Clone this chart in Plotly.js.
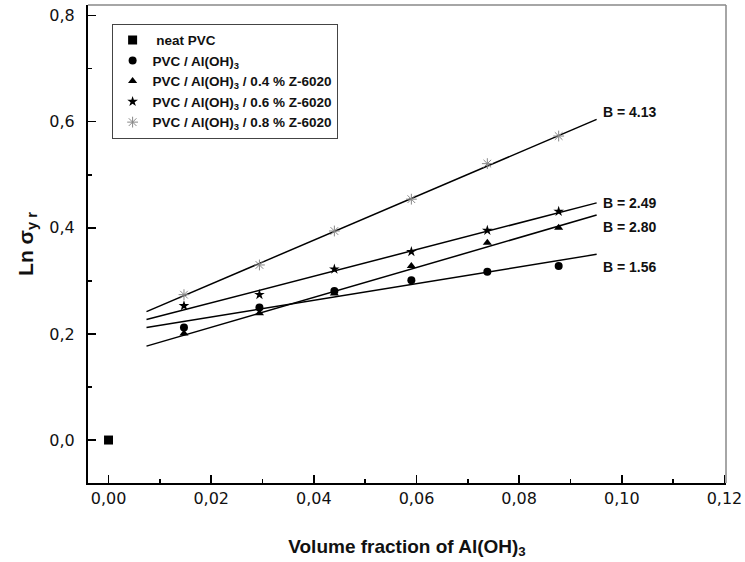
<!DOCTYPE html>
<html>
<head>
<meta charset="utf-8">
<script src="https://cdn.plot.ly/plotly-3.0.1.min.js"></script>
<style>html,body{margin:0;padding:0;background:#fff;}#chart{width:745px;height:562px;}</style>
</head>
<body>
<div id="chart"></div>
<script>
// Data
const seriesNames = [
  '\u00a0neat PVC',
  'PVC / Al(OH)<sub>3</sub>',
  'PVC / Al(OH)<sub>3</sub> / 0.4 % Z-6020',
  'PVC / Al(OH)<sub>3</sub> / 0.6 % Z-6020',
  'PVC / Al(OH)<sub>3</sub> / 0.8 % Z-6020'
];
const neatX = [0.0];
const neatY = [0.0];
const fracX = [0.0147, 0.0294, 0.0440, 0.0590, 0.0738, 0.0877];
const circleY = [0.212, 0.250, 0.281, 0.301, 0.317, 0.328];
const triangleY = [0.201, 0.239, 0.276, 0.328, 0.372, 0.400];
const starY = [0.253, 0.274, 0.322, 0.355, 0.395, 0.431];
const asteriskY = [0.274, 0.330, 0.394, 0.454, 0.521, 0.573];
// fitted lines (end points)
const fitX = [0.0074, 0.0951];
const fitCircle = [0.212, 0.350];
const fitTriangle = [0.177, 0.424];
const fitStar = [0.227, 0.447];
const fitAsterisk = [0.242, 0.6045];
const bLabels = ['B = 4.13', 'B = 2.49', 'B = 2.80', 'B = 1.56'];

const fits = [fitAsterisk, fitStar, fitTriangle, fitCircle];
const labelShift = [7, 0, -12, -13];

const traces = [];
fits.forEach(f => traces.push({
  x: fitX, y: f, mode: 'lines', showlegend: false, hoverinfo: 'skip',
  line: {color: '#000', width: 1.5}
}));
traces.push({x: neatX, y: neatY, mode: 'markers', name: seriesNames[0],
  marker: {symbol: 'square', size: 9, color: '#000'}});
traces.push({x: fracX, y: circleY, mode: 'markers', name: seriesNames[1],
  marker: {symbol: 'circle', size: 8, color: '#000'}});
traces.push({x: fracX, y: triangleY, mode: 'markers', name: seriesNames[2],
  marker: {symbol: 'triangle-up', size: 8, color: '#000'}});
traces.push({x: fracX, y: starY, mode: 'markers', name: seriesNames[3],
  marker: {symbol: 'star', size: 8, color: '#000'}});
traces.push({x: fracX, y: asteriskY, mode: 'markers', name: seriesNames[4],
  marker: {symbol: 'asterisk-open', size: 9, color: '#888', line: {color: '#888', width: 1}}});

const tickFont = {family: 'DejaVu Sans', size: 16, color: '#111'};
const titleFont = {family: 'Liberation Sans, Arial', size: 21, color: '#111', weight: 'bold'};

const layout = {
  width: 745, height: 562,
  margin: {l: 88, r: 19, t: 5, b: 79},
  paper_bgcolor: '#fff', plot_bgcolor: '#fff',
  separators: ', ',
  showlegend: true,
  legend: {
    x: 0.037, y: 0.961, xanchor: 'left', yanchor: 'top',
    bgcolor: '#fff', bordercolor: '#444', borderwidth: 1,
    font: {family: 'Liberation Sans, Arial', size: 13.5, color: '#111', weight: 'bold'},
    tracegroupgap: 0
  },
  xaxis: {
    range: [-0.004, 0.1203], dtick: 0.02, tick0: 0, tickformat: '.2f',
    showgrid: false, zeroline: false,
    showline: true, linecolor: '#000', linewidth: 2, mirror: false,
    ticks: 'inside', ticklen: 8, tickwidth: 1.5, tickcolor: '#000',
    minor: {ticks: 'inside', ticklen: 4, tickwidth: 1.5, tickcolor: '#000', dtick: 0.01, showgrid: false},
    tickfont: tickFont,
    title: {text: 'Volume fraction of Al(OH)<sub>3</sub>', font: {family: 'Liberation Sans, Arial', size: 19, color: '#111', weight: 'bold'}, standoff: 32}
  },
  yaxis: {
    range: [-0.081, 0.82], dtick: 0.2, tick0: 0, tickformat: '.1f',
    showgrid: false, zeroline: false,
    showline: true, linecolor: '#000', linewidth: 2, mirror: false,
    ticks: 'inside', ticklen: 8, tickwidth: 1.5, tickcolor: '#000',
    minor: {ticks: 'inside', ticklen: 4, tickwidth: 1.5, tickcolor: '#000', dtick: 0.1, showgrid: false},
    tickfont: tickFont, ticklabelstandoff: 8,
    title: {text: 'Ln \u03c3<sub>y r</sub>', font: titleFont, standoff: 10}
  },
  shapes: [
    {type: 'line', xref: 'paper', yref: 'paper', x0: 0, x1: 1, y0: 1, y1: 1, line: {color: '#888', width: 1.5}},
    {type: 'line', xref: 'paper', yref: 'paper', x0: 1, x1: 1, y0: 0, y1: 1, line: {color: '#888', width: 1.5}}
  ],
  annotations: bLabels.map((t, i) => ({
    x: fitX[1], y: fits[i][1], xref: 'x', yref: 'y', text: t, showarrow: false,
    xanchor: 'left', yanchor: 'middle', xshift: 4, yshift: labelShift[i],
    font: {family: 'Liberation Sans, Arial', size: 14, color: '#111', weight: 'bold'}
  }))
};

Plotly.newPlot('chart', traces, layout, {displayModeBar: false, staticPlot: true});
</script>
</body>
</html>
